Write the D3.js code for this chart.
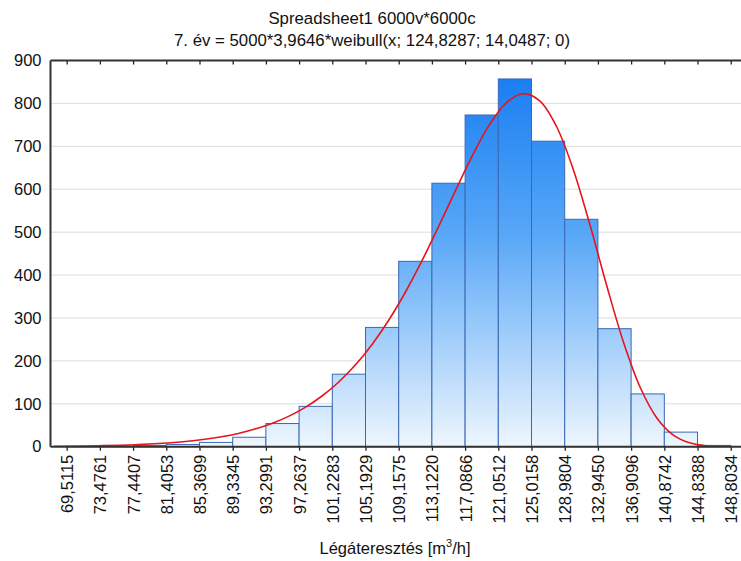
<!DOCTYPE html>
<html>
<head>
<meta charset="utf-8">
<script src="https://cdn.jsdelivr.net/npm/d3@7"></script>
<style>
  html, body { margin: 0; padding: 0; background: #fff; }
  svg { display: block; font-family: "Liberation Sans", Arial, sans-serif; }
</style>
</head>
<body>
<svg id="chart" width="741" height="561"></svg>
<script>
// ---- data ----
const titleLines = ["Spreadsheet1 6000v*6000c", "7. év = 5000*3,9646*weibull(x; 124,8287; 14,0487; 0)"];
const xTickValues = [69.5115, 73.4761, 77.4407, 81.4053, 85.3699, 89.3345, 93.2991, 97.2637, 101.2283, 105.1929,
  109.1575, 113.1220, 117.0866, 121.0512, 125.0158, 128.9804, 132.9450, 136.9096, 140.8742, 144.8388, 148.8034];
const xTickLabels = ["69,5115", "73,4761", "77,4407", "81,4053", "85,3699", "89,3345", "93,2991", "97,2637", "101,2283", "105,1929",
  "109,1575", "113,1220", "117,0866", "121,0512", "125,0158", "128,9804", "132,9450", "136,9096", "140,8742", "144,8388", "148,8034"];
const binCounts = [1, 1, 3, 5, 10, 22, 54, 94, 169, 278, 432, 614, 773, 857, 712, 530, 275, 123, 34, 3];
const yTickValues = [0, 100, 200, 300, 400, 500, 600, 700, 800, 900];
// fitted Weibull curve sampled values (x, expected count)
const fitX = [68, 70, 72, 74, 76, 78, 80, 82, 84, 86, 88, 90, 92, 94, 96, 98, 100, 102, 104, 106, 108, 110,
  112, 114, 116, 118, 120, 122, 124, 126, 128, 130, 132, 134, 136, 138, 140, 142, 144, 146, 148, 150];
const fitY = [0.81, 1.18, 1.70, 2.43, 3.44, 4.82, 6.70, 9.25, 12.65, 17.17, 23.13, 30.92, 41.04, 54.07, 70.71, 91.77,
  118.15, 150.83, 190.79, 238.91, 295.85, 361.69, 435.80, 516.26, 599.58, 680.21, 750.59, 801.4, 822.66, 805.73,
  746.19, 646.16, 516.6, 375.3, 243.44, 137.86, 66.48, 26.49, 8.44, 2.06, 0.37, 0.05];
const xAxisTitle = "Légáteresztés [m";
const xAxisTitleSup = "3";
const xAxisTitleEnd = "/h]";

// ---- layout ----
const svg = d3.select("#chart");
const FONT = "Liberation Sans, Arial, sans-serif";
const pLeft = 50.5, pRight = 741, pTop = 60.5, pBottom = 446.7;
const x = d3.scaleLinear().domain([67.58, 150.03]).range([pLeft, pRight]);
const y = d3.scaleLinear().domain([0, 900]).range([pBottom, pTop]);

// gradient
const defs = svg.append("defs");
const grad = defs.append("linearGradient").attr("id", "barGrad")
  .attr("gradientUnits", "userSpaceOnUse")
  .attr("x1", 0).attr("x2", 0).attr("y1", y(900)).attr("y2", y(0));
grad.append("stop").attr("offset", "0%").attr("stop-color", "#137af1");
grad.append("stop").attr("offset", "45%").attr("stop-color", "#58a7f7");
grad.append("stop").attr("offset", "100%").attr("stop-color", "#eef6fe");

const clip = defs.append("clipPath").attr("id", "plotClip");
clip.append("rect").attr("x", pLeft).attr("y", pTop).attr("width", pRight - pLeft).attr("height", pBottom - pTop);

// gridlines
svg.append("g").selectAll("line").data(yTickValues.filter(d => d > 0 && d < 900)).join("line")
  .attr("x1", pLeft).attr("x2", pRight)
  .attr("y1", d => y(d)).attr("y2", d => y(d))
  .attr("stroke", "#dcdcdc").attr("stroke-width", 1);

// bars
const bins = binCounts.map((c, i) => ({ x0: xTickValues[i], x1: xTickValues[i + 1], c }));
svg.append("g").selectAll("rect").data(bins).join("rect")
  .attr("x", d => x(d.x0)).attr("width", d => x(d.x1) - x(d.x0))
  .attr("y", d => y(d.c)).attr("height", d => y(0) - y(d.c))
  .attr("fill", "url(#barGrad)").attr("stroke", "#3b68b4").attr("stroke-width", 1);

// fit curve
const line = d3.line().x((d, i) => x(fitX[i])).y(d => y(d)).curve(d3.curveCatmullRom);
svg.append("path").datum(fitY).attr("d", line)
  .attr("clip-path", "url(#plotClip)")
  .attr("fill", "none").attr("stroke", "#e8141c").attr("stroke-width", 1.6);

// axes
const yAxis = d3.axisLeft(y).tickValues(yTickValues).tickSize(0).tickPadding(9);
const gy = svg.append("g").attr("transform", `translate(${pLeft},0)`).call(yAxis);
gy.select(".domain").remove();
gy.selectAll("text").attr("font-size", 16.5).attr("fill", "#111").attr("font-family", FONT);

const xAxis = d3.axisBottom(x).tickValues(xTickValues).tickSize(4).tickFormat((d, i) => xTickLabels[i]);
const gx = svg.append("g").attr("transform", `translate(0,${pBottom})`).call(xAxis);
gx.select(".domain").remove();
gx.selectAll(".tick line").attr("stroke", "#222").attr("stroke-width", 1.3);
gx.selectAll("text")
  .attr("font-size", 16.5).attr("fill", "#111").attr("font-family", FONT)
  .attr("transform", "rotate(-90)")
  .attr("text-anchor", "end")
  .attr("x", -8).attr("y", 0).attr("dy", "0.36em");

const xTop = d3.axisTop(x).tickValues(xTickValues).tickSizeInner(-4).tickSizeOuter(0).tickFormat("");
const gt = svg.append("g").attr("transform", `translate(0,${pTop})`).call(xTop);
gt.select(".domain").remove();
gt.selectAll(".tick line").attr("stroke", "#222").attr("stroke-width", 1.3);

// frame lines
svg.append("line").attr("x1", pLeft).attr("x2", pLeft).attr("y1", pTop).attr("y2", pBottom).attr("stroke", "#333").attr("stroke-width", 2);
svg.append("line").attr("x1", pLeft).attr("x2", pRight).attr("y1", pTop).attr("y2", pTop).attr("stroke", "#333").attr("stroke-width", 2);
svg.append("line").attr("x1", pLeft).attr("x2", pRight).attr("y1", pBottom).attr("y2", pBottom).attr("stroke", "#333").attr("stroke-width", 2);

// titles
svg.append("text").attr("x", 372).attr("y", 24).attr("text-anchor", "middle")
  .attr("font-size", 16.8).attr("font-family", FONT).attr("fill", "#111").text(titleLines[0]);
svg.append("text").attr("x", 372).attr("y", 46).attr("text-anchor", "middle")
  .attr("font-size", 16.8).attr("font-family", FONT).attr("fill", "#111").text(titleLines[1]);

const xt = svg.append("text").attr("x", 395).attr("y", 554).attr("text-anchor", "middle")
  .attr("font-size", 16.5).attr("font-family", FONT).attr("fill", "#111");
xt.append("tspan").text(xAxisTitle);
xt.append("tspan").attr("font-size", 11).attr("dy", -7).text(xAxisTitleSup);
xt.append("tspan").attr("dy", 7).text(xAxisTitleEnd);
</script>
</body>
</html>
